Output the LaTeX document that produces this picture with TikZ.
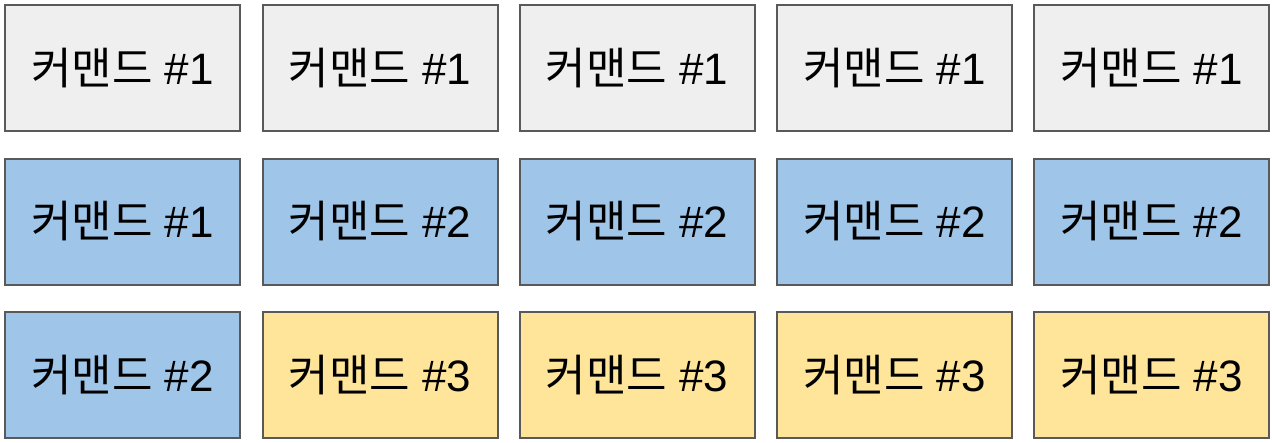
\documentclass[tikz,border=0pt]{standalone}
\usepackage{fontspec}
\setmainfont{Liberation Sans}
\newfontfamily\krfont{Noto Sans CJK KR}
\definecolor{cgray}{HTML}{EFEFEF}
\definecolor{cblue}{HTML}{9FC5E8}
\definecolor{cyellow}{HTML}{FFE599}
\definecolor{cborder}{HTML}{595959}
\begin{document}
\begin{tikzpicture}[x=1pt,y=-1pt,
  cell/.style={draw=cborder,line width=2pt,minimum width=235pt,minimum height=126pt,inner sep=0pt,anchor=north west,font=\fontsize{44}{50}\selectfont},
]
\useasboundingbox (0,0) rectangle (1272,442);
\newcommand{\lbl}[1]{{\krfont 커맨드} \##1}
\foreach \c/\x in {0/4,1/261.5,2/518.5,3/776,4/1033}{
  \foreach \r/\y in {0/4,1/157.5,2/311}{
    \pgfmathtruncatemacro{\idx}{\r*5+\c}
    \ifnum\idx<1 \def\fc{cgray}\def\n{1}\fi
    \ifnum\idx>0 \ifnum\idx<5 \def\fc{cgray}\def\n{1}\fi\fi
    \ifnum\idx=5 \def\fc{cblue}\def\n{1}\fi
    \ifnum\idx>5 \ifnum\idx<11 \def\fc{cblue}\def\n{2}\fi\fi
    \ifnum\idx>10 \def\fc{cyellow}\def\n{3}\fi
    \node[cell,fill=\fc] (b\r\c) at (\x,\y) {\lbl{\n}};
  }
}
\end{tikzpicture}
\end{document}
